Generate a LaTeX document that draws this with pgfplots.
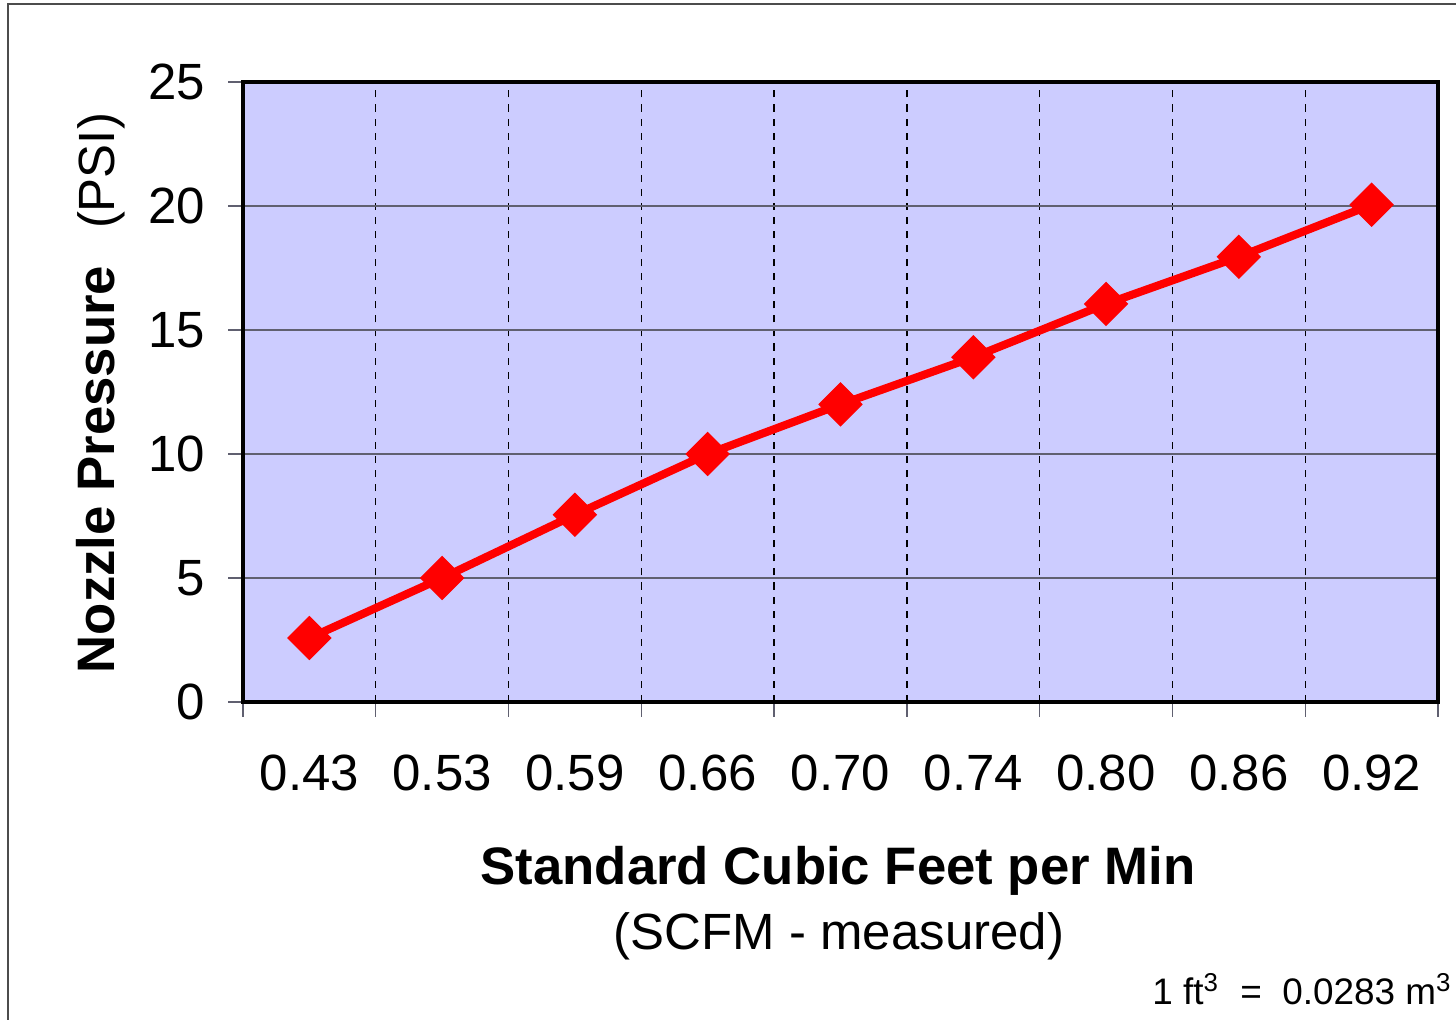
\documentclass[border=0pt]{standalone}
\usepackage{fontspec}
\setmainfont{Liberation Sans}
\usepackage{pgfplots}
\pgfplotsset{compat=1.18}
\definecolor{bgblue}{HTML}{CCCCFF}
\definecolor{gridgray}{HTML}{606070}
\begin{document}
\fontsize{14.5}{17}\selectfont
\begin{tikzpicture}[x=1mm,y=1mm]
\useasboundingbox (0,0) rectangle (145.6,102);
\draw[gray!60!black, line width=0.4pt] (0.8,-5) -- (0.8,101.6) -- (150,101.6);
\begin{axis}[
  at={(24.3mm,31.8mm)}, anchor=south west,
  scale only axis, width=119.5mm, height=62mm,
  xmin=-0.5, xmax=8.5, ymin=0, ymax=25,
  axis background/.style={fill=bgblue},
  axis line style={line width=1pt, black},
  /pgf/number format/assume math mode=true,
  tick align=outside,
  xtick pos=bottom, ytick pos=left,
  xtick={0,...,8},
  xticklabels={0.43,0.53,0.59,0.66,0.70,0.74,0.80,0.86,0.92},
  major x tick style={draw=none},
  minor xtick={-0.5,0.5,1.5,2.5,3.5,4.5,5.5,6.5,7.5,8.5},
  minor tick length=1.5mm,
  major tick length=1.5mm,
  minor x tick style={draw=gridgray, line width=0.4pt},
  xminorgrids=true,
  minor x grid style={black, line width=0.4pt, dash pattern=on 2pt off 2pt},
  ytick={0,5,...,25},
  y tick style={draw=gridgray, line width=0.5pt},
  ymajorgrids=true,
  major y grid style={gridgray, line width=0.5pt},
  xticklabel style={yshift=-2.0mm},
  yticklabel style={xshift=-0.5mm},
  clip=false,
]
\addplot[red, line width=2.3pt, mark=square*, mark size=1.52mm, mark options={rotate=45, solid, line width=0.3pt}]
  coordinates {(0,2.58) (1,5) (2,7.55) (3,10) (4,12) (5,13.9) (6,16.05) (7,17.95) (8,20.05)};
\end{axis}
\node[anchor=base] at (83.8,13.5) {\fontsize{15}{18}\selectfont\bfseries Standard Cubic Feet per Min};
\node[anchor=base] at (83.9,7.0) {(SCFM - measured)};
\node[anchor=base, rotate=90] at (11.5,62.7) {{\fontsize{15}{18}\selectfont\bfseries Nozzle Pressure}\ \ \,(PSI)};
\node[anchor=base east, inner sep=0pt] at (145.3,1.5) {\fontsize{10.5}{12}\selectfont 1 ft\textsuperscript{3}\ \ =\ \ 0.0283 m\textsuperscript{3}};
\end{tikzpicture}
\end{document}
